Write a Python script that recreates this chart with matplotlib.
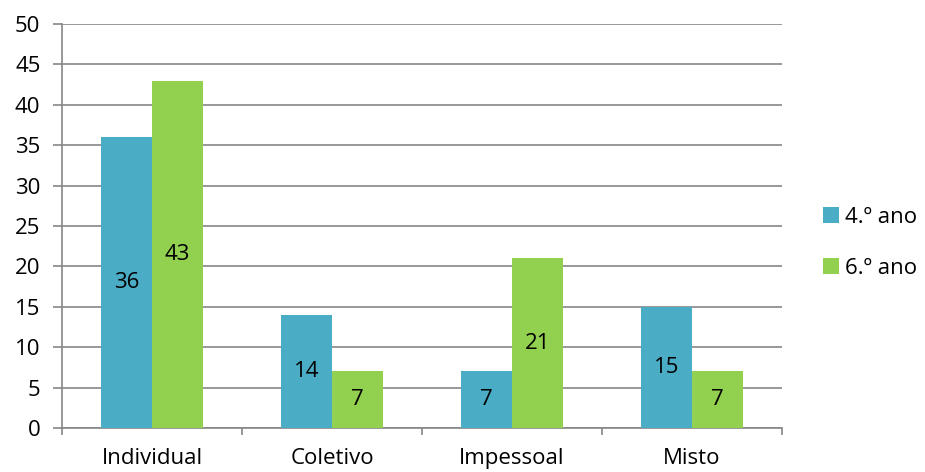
import numpy as np
import matplotlib.pyplot as plt

categories = ["Individual", "Coletivo", "Impessoal", "Misto"]
series_names = ["4.º ano", "6.º ano"]
ano4 = [36, 14, 7, 15]
ano6 = [43, 7, 21, 7]

BLUE = "#4BACC6"
GREEN = "#92D050"
GRID = "#868686"
FS = 16

plt.rcParams['font.family'] = ['Open Sans', 'DejaVu Sans']

fig = plt.figure(figsize=(9.25, 4.72), dpi=100)
ax = fig.add_axes([62/925, 44/472, 720/925, 404/472])

x = np.arange(len(categories))
w = 0.2833
b1 = ax.bar(x - w/2, ano4, w, color=BLUE, label=series_names[0], zorder=3)
b2 = ax.bar(x + w/2, ano6, w, color=GREEN, label=series_names[1], zorder=3)

for bars, vals in [(b1, ano4), (b2, ano6)]:
    for r, v in zip(bars, vals):
        ax.text(r.get_x() + r.get_width()/2, v/2, str(v), ha="center", va="center",
                fontsize=FS, color="black", zorder=4)

ax.set_xlim(-0.5, len(categories) - 0.5)
ax.set_ylim(0, 50)
ax.set_yticks(range(0, 51, 5))
ax.yaxis.grid(True, color=GRID, linewidth=1.2, zorder=0)
ax.set_axisbelow(True)

ax.set_xticks(np.arange(-0.5, len(categories), 1))
ax.set_xticklabels([])
ax.set_xticks(x, minor=True)
ax.set_xticklabels(categories, minor=True)
ax.tick_params(axis="x", which="major", length=5, width=1.2, color=GRID, direction="out")
ax.tick_params(axis="x", which="minor", length=0, pad=14.5, labelsize=FS)
ax.tick_params(axis="y", length=6.5, width=1.2, color=GRID, pad=9, labelsize=FS)

for s in ["top", "right"]:
    ax.spines[s].set_visible(False)
for s in ["left", "bottom"]:
    ax.spines[s].set_color(GRID)
    ax.spines[s].set_linewidth(1.2)

fig.legend(handles=[b1, b2], labels=series_names, loc="center left",
           bbox_to_anchor=(823/925, 1 - 243/472), frameon=False, fontsize=FS,
           handlelength=0.73, handleheight=0.73, handletextpad=0.25,
           labelspacing=1.35, borderaxespad=0, borderpad=0)

fig.savefig("out.png", dpi=100)
